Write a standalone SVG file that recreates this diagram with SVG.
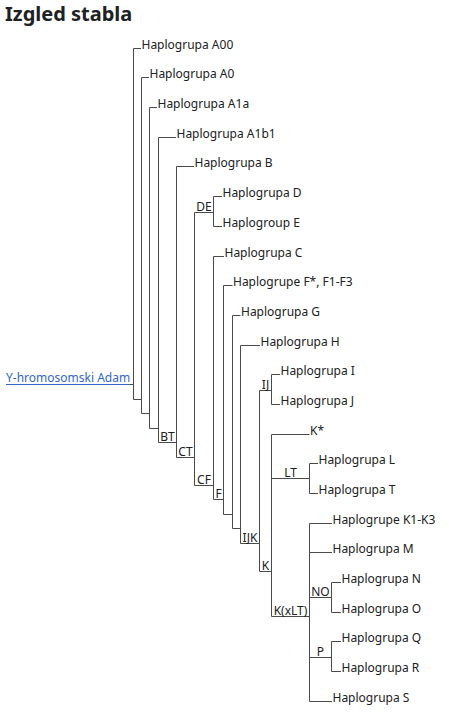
<svg xmlns="http://www.w3.org/2000/svg" width="449" height="714" viewBox="0 0 449 714">
<style>
text{font-family:"Noto Sans","Open Sans","Liberation Sans",sans-serif;font-size:12px;fill:#202122}
.t{font-size:20px;font-weight:700}
.c{text-anchor:middle}
.lnk{fill:#3366cc}
#edges path{fill:none;stroke:#4a4a4a;stroke-width:1}
</style>
<rect width="449" height="714" fill="#fff"/>
<text class="t" x="5" y="20.5">Izgled stabla</text>
<g id="edges">
<path d="M6,384.5H130" style="stroke:#3366cc"/>
<path d="M130,384.5H133.5"/>
<path d="M141,48.5H133.5V399.5H141.5"/>
<path d="M149,77.5H141.5V413.5H149.5"/>
<path d="M157,107.5H149.5V428.5H158.5"/>
<path d="M176,137.5H158.5V442.5H176.5"/>
<path d="M194,166.5H176.5V457.5H194.5"/>
<path d="M213.5,212.5H194.5V485.5H213.5"/>
<path d="M222,196.5H213.5V226.5H222"/>
<path d="M224,256.5H213.5V499.5H223.5"/>
<path d="M232.5,285.5H223.5V514.5H232.5"/>
<path d="M240.5,315.5H232.5V528.5H240.5"/>
<path d="M260,345.5H240.5V543.5H259.5"/>
<path d="M271.5,390.5H259.5V571.5H271.5"/>
<path d="M280,374.5H271.5V404.5H280"/>
<path d="M309.5,434.5H271.5V616.5H309.5"/>
<path d="M271.5,478.5H309.5"/>
<path d="M318,463.5H309.5V493.5H318"/>
<path d="M332,523.5H309.5V701.5H332"/>
<path d="M309.5,552.5H332"/>
<path d="M309.5,597.5H331.5"/>
<path d="M309.5,657.5H331.5"/>
<path d="M341,582.5H331.5V612.5H341"/>
<path d="M341,641.5H331.5V671.5H341"/>
</g>
<g id="root"><text class="lnk" x="6" y="382">Y-hromosomski Adam</text></g>
<g id="A00"><text x="141.5" y="49">Haplogrupa A00</text></g>
<g id="A0"><text x="149.5" y="78">Haplogrupa A0</text></g>
<g id="A1a"><text x="157.5" y="108">Haplogrupa A1a</text></g>
<g id="A1b1"><text x="176.5" y="138">Haplogrupa A1b1</text></g>
<g id="B"><text x="194.5" y="167">Haplogrupa B</text></g>
<g id="D"><text x="222.5" y="197">Haplogrupa D</text></g>
<g id="E"><text x="222.5" y="227">Haplogroup E</text></g>
<g id="C"><text x="224.5" y="257">Haplogrupa C</text></g>
<g id="Fstar"><text x="233" y="286">Haplogrupe F*, F1-F3</text></g>
<g id="G"><text x="241" y="316">Haplogrupa G</text></g>
<g id="H"><text x="260.5" y="346">Haplogrupa H</text></g>
<g id="I"><text x="280.5" y="375">Haplogrupa I</text></g>
<g id="J"><text x="280.5" y="405">Haplogrupa J</text></g>
<g id="Kstar"><text x="310" y="435">K*</text></g>
<g id="L"><text x="318.5" y="464">Haplogrupa L</text></g>
<g id="T"><text x="318.5" y="494">Haplogrupa T</text></g>
<g id="K1K3"><text x="332.5" y="524">Haplogrupe K1-K3</text></g>
<g id="M"><text x="332.5" y="553">Haplogrupa M</text></g>
<g id="N"><text x="341.5" y="583">Haplogrupa N</text></g>
<g id="O"><text x="341.5" y="613">Haplogrupa O</text></g>
<g id="Q"><text x="341.5" y="642">Haplogrupa Q</text></g>
<g id="R"><text x="341.5" y="672">Haplogrupa R</text></g>
<g id="S"><text x="332.5" y="702">Haplogrupa S</text></g>
<g id="BT"><text class="c" x="167.5" y="440.5">BT</text></g>
<g id="CT"><text class="c" x="185.5" y="455.5">CT</text></g>
<g id="DE"><text class="c" x="204" y="210.5">DE</text></g>
<g id="CF"><text class="c" x="204" y="483.5">CF</text></g>
<g id="F"><text class="c" x="218.5" y="497.5">F</text></g>
<g id="IJK"><text class="c" x="250" y="541.5">IJK</text></g>
<g id="IJ"><text class="c" x="265.5" y="388.5">IJ</text></g>
<g id="K"><text class="c" x="265.5" y="569.5">K</text></g>
<g id="LT"><text class="c" x="290.5" y="476.5">LT</text></g>
<g id="KxLT"><text class="c" x="290.5" y="614.5">K(xLT)</text></g>
<g id="NO"><text class="c" x="320.5" y="595.5">NO</text></g>
<g id="P"><text class="c" x="320.5" y="655.5">P</text></g>
</svg>
